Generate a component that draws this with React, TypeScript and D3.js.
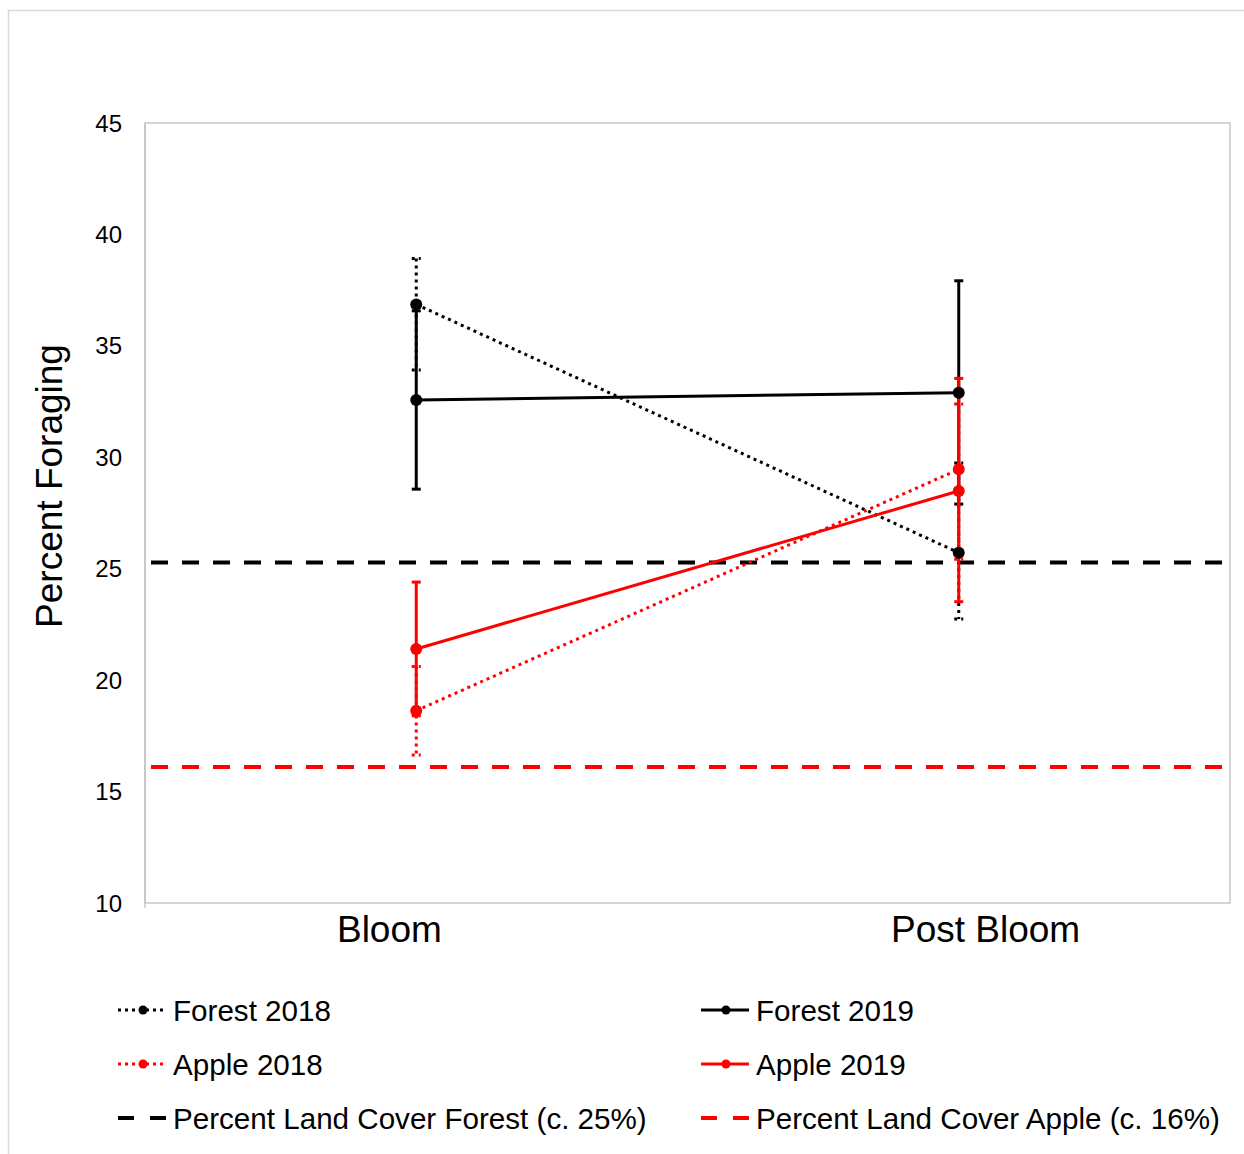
import React, { useEffect } from "react";
import * as d3 from "d3";

// Season categories on the x axis
const categories = ["Bloom", "Post Bloom"];

// Mean percent foraging per season, with error bar extents
const forest2018 = [36.86, 25.72];
const forest2018Plus = [2.06, 4.02];
const forest2018Minus = [2.94, 2.98];

const forest2019 = [32.57, 32.9];
const forest2019Plus = [4.0, 5.02];
const forest2019Minus = [4.0, 5.0];

const apple2018 = [18.63, 29.46];
const apple2018Plus = [1.98, 2.93];
const apple2018Minus = [1.99, 4.04];

const apple2019 = [21.4, 28.49];
const apple2019Plus = [3.0, 5.05];
const apple2019Minus = [3.0, 4.97];

// Landscape land-cover reference levels
const landCoverForest = 25.28;
const landCoverApple = 16.1;

const yTicks = [10, 15, 20, 25, 30, 35, 40, 45];
const yDomain = [10, 45];

const seriesNames = ["Forest 2018", "Forest 2019", "Apple 2018", "Apple 2019"];
const referenceNames = [
  "Percent Land Cover Forest (c. 25%)",
  "Percent Land Cover Apple (c. 16%)",
];

const FONT = "'Liberation Sans', Arial, Helvetica, sans-serif";
const W = 1244;
const H = 1154;
const plot = { left: 145, top: 123, right: 1230, bottom: 903 };

const DOT = "3 4";

type Series = {
  name: string;
  values: number[];
  plus: number[];
  minus: number[];
  color: string;
  dotted: boolean;
};

const series: Series[] = [
  { name: seriesNames[0], values: forest2018, plus: forest2018Plus, minus: forest2018Minus, color: "#000000", dotted: true },
  { name: seriesNames[1], values: forest2019, plus: forest2019Plus, minus: forest2019Minus, color: "#000000", dotted: false },
  { name: seriesNames[2], values: apple2018, plus: apple2018Plus, minus: apple2018Minus, color: "#ff0000", dotted: true },
  { name: seriesNames[3], values: apple2019, plus: apple2019Plus, minus: apple2019Minus, color: "#ff0000", dotted: false },
];

const references = [
  { name: referenceNames[0], value: landCoverForest, color: "#000000" },
  { name: referenceNames[1], value: landCoverApple, color: "#ff0000" },
];

export default function App() {
  useEffect(() => {
    document.body.style.margin = "0";
    document.body.style.overflow = "hidden";
  }, []);

  const x = d3.scalePoint<string>().domain(categories).range([plot.left, plot.right]).padding(0.5);
  const xLabel = d3.scalePoint<string>().domain(categories).range([plot.left, plot.right]).padding(0.41);
  const y = d3.scaleLinear().domain(yDomain).range([plot.bottom, plot.top]);

  const line = d3
    .line<number>()
    .x((_, i) => x(categories[i]) as number)
    .y((d) => y(d));

  const capHalf = 4.5;

  // legend layout
  const legendCols = [118, 701];
  const legendRows = [1010, 1064, 1118];
  const legendItems = [
    { kind: "series", s: series[0], col: 0, row: 0 },
    { kind: "series", s: series[1], col: 1, row: 0 },
    { kind: "series", s: series[2], col: 0, row: 1 },
    { kind: "series", s: series[3], col: 1, row: 1 },
    { kind: "ref", r: references[0], col: 0, row: 2 },
    { kind: "ref", r: references[1], col: 1, row: 2 },
  ];

  return (
    <div style={{ position: "absolute", left: 0, top: 0, width: W, height: H, background: "#fff" }}>
      <svg width={W} height={H} style={{ display: "block" }} fontFamily={FONT}>
        <rect x={0} y={0} width={W} height={H} fill="#ffffff" />
        {/* chart frame */}
        <rect x={8.5} y={10.5} width={W + 20} height={H + 20} fill="none" stroke="#d9d9d9" strokeWidth={1.5} />

        {/* plot area border */}
        <rect
          x={plot.left}
          y={plot.top}
          width={plot.right - plot.left}
          height={plot.bottom - plot.top}
          fill="none"
          stroke="#c0c0c0"
          strokeWidth={1.3}
        />
        <line x1={plot.left} x2={plot.left} y1={plot.top} y2={plot.bottom + 5} stroke="#c0c0c0" strokeWidth={1.3} />

        {/* y tick labels */}
        {yTicks.map((t) => (
          <text key={t} x={122} y={y(t)} dy="0.36em" textAnchor="end" fontSize={24} fill="#000">
            {t}
          </text>
        ))}

        {/* y axis title */}
        <text
          transform={`translate(62, ${486}) rotate(-90)`}
          textAnchor="middle"
          fontSize={37}
          fill="#000"
        >
          Percent Foraging
        </text>

        {/* category labels */}
        {categories.map((c) => (
          <text key={c} x={xLabel(c)} y={942} textAnchor="middle" fontSize={37} fill="#000">
            {c}
          </text>
        ))}

        {/* land cover reference lines */}
        {references.map((r) => (
          <line
            key={r.name}
            x1={plot.left + 6}
            x2={plot.right - 2}
            y1={y(r.value)}
            y2={y(r.value)}
            stroke={r.color}
            strokeWidth={4}
            strokeDasharray="17 14"
          />
        ))}

        {/* error bars */}
        {series.map((s) =>
          s.values.map((v, i) => {
            const cx = x(categories[i]) as number;
            const top = y(v + s.plus[i]);
            const bot = y(v - s.minus[i]);
            const dash = s.dotted ? DOT : undefined;
            return (
              <g key={`${s.name}-eb-${i}`} stroke={s.color} strokeWidth={3} strokeDasharray={dash}>
                <line x1={cx} x2={cx} y1={top} y2={bot} />
                <line x1={cx - capHalf} x2={cx + capHalf} y1={top} y2={top} />
                <line x1={cx - capHalf} x2={cx + capHalf} y1={bot} y2={bot} />
              </g>
            );
          })
        )}

        {/* series lines */}
        {series.map((s) => (
          <path
            key={`${s.name}-line`}
            d={line(s.values) || ""}
            fill="none"
            stroke={s.color}
            strokeWidth={3}
            strokeDasharray={s.dotted ? DOT : undefined}
          />
        ))}

        {/* markers */}
        {series.map((s) =>
          s.values.map((v, i) => (
            <circle key={`${s.name}-m-${i}`} cx={x(categories[i])} cy={y(v)} r={6} fill={s.color} />
          ))
        )}

        {/* legend */}
        {legendItems.map((item, k) => {
          const lx = legendCols[item.col];
          const ly = legendRows[item.row];
          const textX = lx + 55;
          if (item.kind === "series") {
            const s = item.s as Series;
            return (
              <g key={k}>
                <line
                  x1={lx}
                  x2={lx + 48}
                  y1={ly}
                  y2={ly}
                  stroke={s.color}
                  strokeWidth={3}
                  strokeDasharray={s.dotted ? DOT : undefined}
                />
                <circle cx={lx + 25} cy={ly} r={4.5} fill={s.color} />
                <text x={textX} y={ly} dy="0.36em" fontSize={29.6} fill="#000">
                  {s.name}
                </text>
              </g>
            );
          }
          const r = item.r as { name: string; color: string };
          return (
            <g key={k}>
              <line
                x1={lx}
                x2={lx + 48}
                y1={ly}
                y2={ly}
                stroke={r.color}
                strokeWidth={4}
                strokeDasharray="16 16"
              />
              <text x={textX} y={ly} dy="0.36em" fontSize={29.6} fill="#000">
                {r.name}
              </text>
            </g>
          );
        })}
      </svg>
    </div>
  );
}
